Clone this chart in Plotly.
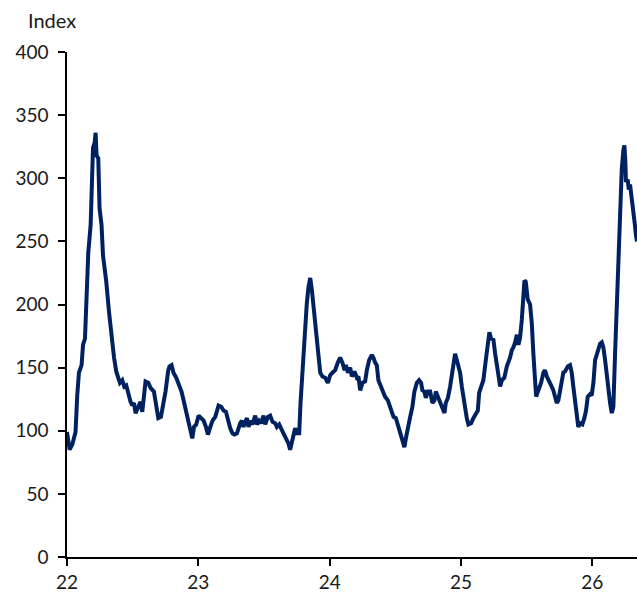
import plotly.graph_objects as go

# Decimal years (22 = 2022) and index values
years = [
    22.000, 22.020, 22.040, 22.065, 22.078, 22.091, 22.111, 22.122, 22.137, 22.147,
    22.162, 22.180, 22.187, 22.198, 22.210, 22.218, 22.225, 22.238, 22.248, 22.263,
    22.274, 22.289, 22.299, 22.320, 22.339, 22.358, 22.375, 22.390, 22.403, 22.421,
    22.436, 22.451, 22.467, 22.484, 22.497, 22.510, 22.522, 22.543, 22.560, 22.573,
    22.586, 22.598, 22.619, 22.636, 22.662, 22.680, 22.695, 22.715, 22.731, 22.750,
    22.771, 22.781, 22.796, 22.811, 22.832, 22.852, 22.872, 22.890, 22.908, 22.928,
    22.941, 22.954, 22.967, 22.984, 23.002, 23.022, 23.040, 23.058, 23.073, 23.091,
    23.108, 23.129, 23.142, 23.154, 23.174, 23.192, 23.210, 23.225, 23.243, 23.260,
    23.275, 23.294, 23.306, 23.319, 23.332, 23.344, 23.357, 23.370, 23.382, 23.395,
    23.412, 23.433, 23.446, 23.463, 23.479, 23.496, 23.509, 23.530, 23.547, 23.565,
    23.585, 23.598, 23.616, 23.631, 23.648, 23.667, 23.686, 23.699, 23.712, 23.725,
    23.737, 23.750, 23.768, 23.778, 23.788, 23.801, 23.814, 23.826, 23.839, 23.852,
    23.865, 23.877, 23.890, 23.903, 23.915, 23.928, 23.945, 23.966, 23.986, 24.004,
    24.021, 24.042, 24.062, 24.080, 24.097, 24.113, 24.123, 24.139, 24.156, 24.169,
    24.189, 24.207, 24.219, 24.232, 24.250, 24.270, 24.283, 24.301, 24.321, 24.333,
    24.346, 24.359, 24.371, 24.392, 24.409, 24.422, 24.443, 24.460, 24.473, 24.486,
    24.504, 24.519, 24.537, 24.554, 24.569, 24.582, 24.595, 24.613, 24.630, 24.645,
    24.664, 24.681, 24.696, 24.706, 24.721, 24.732, 24.747, 24.765, 24.782, 24.798,
    24.808, 24.823, 24.841, 24.858, 24.874, 24.884, 24.900, 24.917, 24.930, 24.942,
    24.955, 24.968, 24.980, 24.993, 25.006, 25.018, 25.031, 25.044, 25.056, 25.077,
    25.094, 25.113, 25.128, 25.138, 25.153, 25.170, 25.189, 25.204, 25.216, 25.229,
    25.247, 25.260, 25.272, 25.285, 25.298, 25.311, 25.330, 25.349, 25.361, 25.374,
    25.387, 25.399, 25.412, 25.425, 25.437, 25.450, 25.463, 25.475, 25.483, 25.493,
    25.508, 25.526, 25.539, 25.551, 25.564, 25.572, 25.589, 25.610, 25.627, 25.640,
    25.653, 25.670, 25.686, 25.703, 25.716, 25.729, 25.741, 25.754, 25.767, 25.779,
    25.792, 25.813, 25.830, 25.843, 25.855, 25.868, 25.881, 25.893, 25.906, 25.924,
    25.939, 25.952, 25.965, 25.983, 25.995, 26.008, 26.021, 26.033, 26.046, 26.059,
    26.072, 26.084, 26.097, 26.110, 26.122, 26.135, 26.148, 26.160, 26.173, 26.186,
    26.198, 26.211, 26.224, 26.236, 26.244, 26.251, 26.256, 26.269, 26.277, 26.287,
    26.300, 26.312, 26.323, 26.333, 26.340,
]
index_values = [
    99, 85, 89, 99, 128, 146, 152, 168, 173, 200,
    241, 263, 297, 324, 328, 336, 318, 316, 276, 263,
    239, 221, 218, 194, 173, 158, 147, 142, 138, 140,
    135, 136, 128, 123, 120, 122, 114, 120, 123, 115,
    131, 139, 138, 134, 131, 118, 110, 111, 120, 131,
    148, 151, 152, 146, 142, 136, 131, 123, 115, 107,
    103, 94, 103, 105, 112, 110, 108, 103, 97, 103,
    108, 111, 116, 120, 119, 116, 115, 108, 102, 98,
    97, 98, 103, 106, 108, 103, 107, 110, 103, 108,
    105, 112, 105, 108, 106, 112, 105, 111, 112, 107,
    106, 103, 105, 101, 98, 94, 90, 85, 90, 97,
    102, 98, 98, 122, 140, 160, 180, 201, 214, 221,
    211, 198, 182, 166, 154, 146, 143, 142, 138, 144,
    146, 148, 154, 158, 154, 148, 152, 146, 150, 143,
    147, 142, 143, 132, 138, 139, 148, 156, 160, 158,
    154, 152, 140, 134, 131, 127, 124, 118, 116, 111,
    110, 105, 99, 94, 87, 95, 103, 111, 119, 131,
    138, 140, 138, 132, 131, 126, 131, 131, 122, 124,
    131, 127, 122, 119, 114, 122, 126, 135, 146, 156,
    161, 156, 151, 146, 135, 127, 116, 110, 105, 106,
    110, 114, 116, 130, 134, 140, 156, 169, 178, 173,
    172, 161, 152, 143, 135, 140, 142, 151, 154, 158,
    164, 166, 170, 176, 168, 174, 188, 204, 219, 218,
    204, 200, 185, 161, 140, 127, 132, 138, 146, 148,
    143, 140, 136, 132, 127, 122, 124, 132, 136, 146,
    147, 151, 152, 146, 135, 122, 114, 103, 106, 105,
    110, 116, 127, 129, 128, 138, 156, 161, 164, 169,
    170, 166, 156, 143, 132, 122, 114, 119, 161, 198,
    235, 280, 307, 322, 326, 314, 297, 299, 291, 295,
    285, 277, 264, 254, 250,
]

x_tick_vals = [22, 23, 24, 25, 26]
x_tick_text = ["22", "23", "24", "25", "26"]
y_tick_vals = [0, 50, 100, 150, 200, 250, 300, 350, 400]

LINE_COLOR = "#002160"
FONT = "Lato, 'Open Sans', sans-serif"
TEXT_COLOR = "#1a1a1a"

fig = go.Figure()
fig.add_trace(go.Scatter(
    x=years, y=index_values, mode="lines",
    line=dict(color=LINE_COLOR, width=4),
    showlegend=False, hoverinfo="skip",
))

fig.update_layout(
    width=637, height=596,
    margin=dict(l=67, r=0, t=52, b=39, pad=0, autoexpand=False),
    paper_bgcolor="white", plot_bgcolor="white",
    font=dict(family=FONT, size=19, color=TEXT_COLOR),
    xaxis=dict(
        range=[22, 26.34], tickmode="array", tickvals=x_tick_vals, ticktext=x_tick_text,
        showgrid=False, zeroline=False, showline=True, linecolor="black", linewidth=1.5,
        ticks="outside", ticklen=7, tickwidth=1.5, tickcolor="black",
        tickfont=dict(family=FONT, size=19, color=TEXT_COLOR),
        automargin=False,
    ),
    yaxis=dict(
        range=[0, 400], tickmode="array", tickvals=y_tick_vals,
        showgrid=False, zeroline=False, showline=True, linecolor="black", linewidth=1.5,
        ticks="outside", ticklen=7, tickwidth=1.5, tickcolor="black",
        tickfont=dict(family=FONT, size=19, color=TEXT_COLOR),
        ticklabelstandoff=6, automargin=False,
    ),
    annotations=[dict(
        text="Index", xref="paper", yref="paper", x=-0.0715, y=1.0628,
        xanchor="left", yanchor="middle", showarrow=False,
        font=dict(family=FONT, size=20, color=TEXT_COLOR),
    )],
)

# remove the default page margin so the 637x596 figure fills the window exactly
fig.write_html(
    "out.html",
    config={"displayModeBar": False},
    post_script="document.body.style.margin='0';document.body.style.overflow='hidden';",
)
